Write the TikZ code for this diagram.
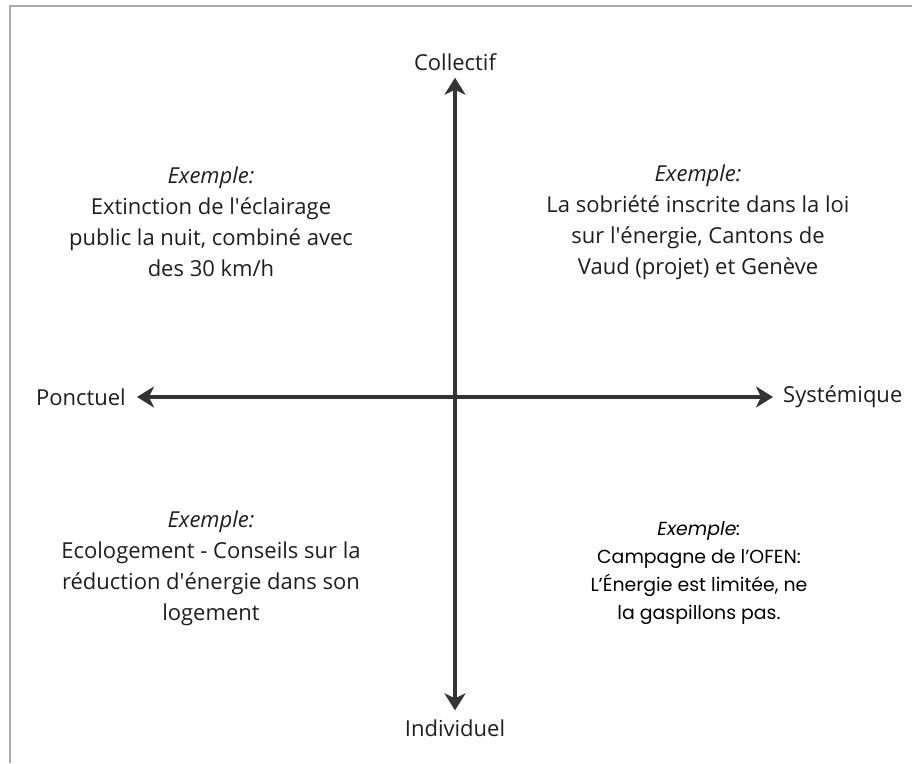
\documentclass[tikz,border=0pt]{standalone}
\usepackage{fontspec}
\setmainfont{Open Sans}
\newfontfamily\gothic{Poppins}
\usetikzlibrary{arrows.meta}
\definecolor{axisgrey}{HTML}{333333}
\definecolor{framegrey}{HTML}{AAAAAA}
\definecolor{textgrey}{HTML}{1E1E1E}
\newcommand{\apos}{\textquotesingle}

\begin{document}
\begin{tikzpicture}[x=1pt ,y=-1pt ,
		label/.style ={ inner sep =0pt , text=textgrey ,
			font=\fontsize{22}{31}\selectfont },
		example/.style ={ label , align=center },
		exemplegothic/.style ={ inner sep =0pt , text=black , align=center ,
			font=\gothic\fontsize{18.9}{28}\selectfont },
		axe/.style ={ draw=axisgrey , line width =4pt ,
			{Stealth[length=17pt,width=21pt,inset=5pt]}-{Stealth[length=17pt,width=21pt,inset=5pt]} }]
		\useasboundingbox (0,0) rectangle (912,763);
		\draw[framegrey, line width=2.5pt] (10,763) -- (10,6) -- (912,6);
		\node[label] (coll) at (455,62) {Collectif};
		\node[label] (indiv) at (455,728) {Individuel};
		\node[label, anchor=east] (ponct) at (126,397) {Ponctuel};
		\node[label, anchor=west] (syst) at (783,397) {Systémique};
		\path (ponct) edge[axe, shorten <=11pt, shorten >=10pt] (syst); % ponctuel to systemique
		\path (coll) edge[axe, shorten <=7pt, shorten >=9pt] (indiv); % collectif to individuel
		\node[example] (q1) at (211,222) {\textit{Exemple:}\\Extinction de l\apos éclairage\\public la nuit, combiné avec\\des 30 km/h};
		\node[example] (q2) at (698,222) {\textit{Exemple:}\\La sobriété inscrite dans la loi\\sur l\apos énergie, Cantons de\\Vaud (projet) et Genève};
		\node[example] (q3) at (211,568) {\textit{Exemple:}\\Ecologement - Conseils sur la\\réduction d\apos énergie dans son\\logement};
		\node[exemplegothic] (q4) at (699,573) {\textit{Exemple:}\\Campagne de l’OFEN:\\L’Énergie est limitée, ne\\la gaspillons pas.};
		\end{tikzpicture}
\end{document}
